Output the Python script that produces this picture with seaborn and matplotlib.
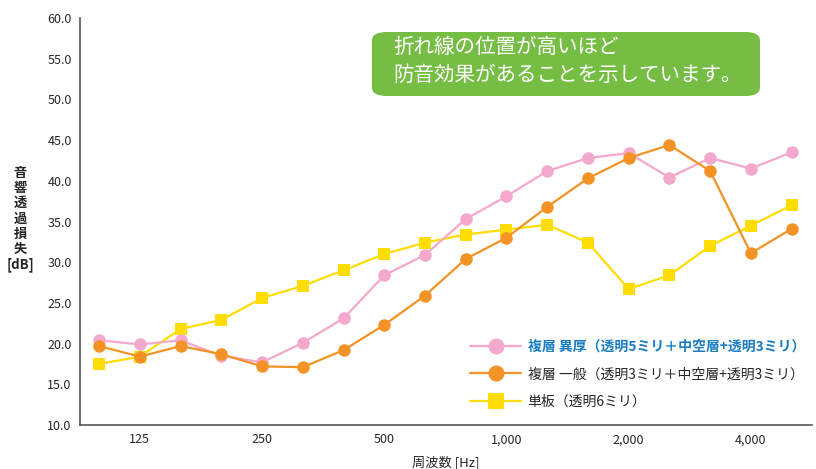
import numpy as np
import pandas as pd
import matplotlib.pyplot as plt
import seaborn as sns
from matplotlib.patches import FancyBboxPatch

# 1/3オクターブバンドの周波数
frecuencias = [100, 125, 160, 200, 250, 315, 400, 500, 630, 800,
               1000, 1250, 1600, 2000, 2500, 3150, 4000, 5000]

# 各サンプルの音響透過損失 [dB]
ikou = [20.4, 19.9, 20.4, 18.5, 17.7, 20.1, 23.1, 28.4, 30.9, 35.3,
        38.1, 41.2, 42.8, 43.4, 40.4, 42.8, 41.5, 43.5]
ippan = [19.7, 18.4, 19.7, 18.7, 17.2, 17.1, 19.2, 22.3, 25.9, 30.4,
         33.0, 36.8, 40.3, 42.8, 44.4, 41.2, 31.1, 34.1]
tanban = [17.5, 18.4, 21.8, 22.9, 25.6, 27.1, 29.0, 31.0, 32.4, 33.4,
          34.0, 34.6, 32.4, 26.7, 28.4, 32.0, 34.5, 37.0]

series = ["複層 異厚（透明5ミリ＋中空層+透明3ミリ）",
          "複層 一般（透明3ミリ＋中空層+透明3ミリ）",
          "単板（透明6ミリ）"]
colores = ["#f4a8cb", "#f39325", "#ffdd00"]
marcadores = ["o", "o", "s"]

tick_labels = ["125", "250", "500", "1,000", "2,000", "4,000"]
tick_freqs = [125, 250, 500, 1000, 2000, 4000]

sns.set_style("white")
plt.rcParams['font.family'] = ['Noto Sans CJK JP', 'DejaVu Sans']

datos = pd.DataFrame({
    "pos": list(range(len(frecuencias))) * 3,
    "valor": ikou + ippan + tanban,
    "serie": [series[0]] * len(ikou) + [series[1]] * len(ippan) + [series[2]] * len(tanban),
})

fig = plt.figure(figsize=(8.16, 4.69), dpi=100)
ax = fig.add_axes([80 / 816, 44 / 469, 732 / 816, 407 / 469])

# dibujamos de abajo hacia arriba: amarillo, naranja, rosa
for nombre, color, m, z in zip(series, colores, marcadores, [3, 4, 2]):
    sub = datos[datos["serie"] == nombre]
    sns.lineplot(data=sub, x="pos", y="valor", color=color, marker=m,
                 markersize=9 if m == "o" else 8.5, markeredgewidth=0,
                 linewidth=1.6, ax=ax, label=nombre, zorder=z)

ax.set_xlim(-0.47, 17.5)
ax.set_ylim(10, 60)
ax.set_yticks(np.arange(10, 60.1, 5))
ax.set_yticklabels([f"{v:.1f}" for v in np.arange(10, 60.1, 5)], fontsize=9)
ax.set_xticks([frecuencias.index(f) for f in tick_freqs])
ax.set_xticklabels(tick_labels, fontsize=9)
ax.tick_params(length=0, pad=6)
ax.set_xlabel("")
ax.set_ylabel("")

sns.despine(ax=ax)
for lado in ["left", "bottom"]:
    ax.spines[lado].set_color("#555555")
    ax.spines[lado].set_linewidth(1.2)

# titulos de los ejes
fig.text(446 / 816, 1 - 462 / 469, "周波数 [Hz]", ha="center", va="center", fontsize=9.5)
fig.text(20 / 816, 1 - 219 / 469, "音\n響\n透\n過\n損\n失\n[dB]", ha="center", va="center",
         fontsize=9.5, fontweight="bold", linespacing=1.12)

# leyenda
handles, labels = ax.get_legend_handles_labels()
leg = ax.legend(handles, labels, loc="upper left", bbox_to_anchor=(470 / 816, 1 - 340 / 469),
                bbox_transform=fig.transFigure, frameon=False, fontsize=10,
                borderpad=0, borderaxespad=0,
                handlelength=3.7, handletextpad=0.45, labelspacing=0.95, markerscale=1.28)
leg.get_texts()[0].set_color("#1a7dc1")
leg.get_texts()[0].set_fontweight("bold")

# cuadro verde
caja = FancyBboxPatch((372 / 816, 1 - 96 / 469), 388 / 816, 64 / 469,
                      boxstyle="round,pad=0,rounding_size=0.018",
                      transform=fig.transFigure, facecolor="#75bd43", edgecolor="none")
fig.patches.append(caja)
fig.text(393 / 816, 1 - 47 / 469, "折れ線の位置が高いほど", color="white", fontsize=14.8, va="center")
fig.text(393 / 816, 1 - 75 / 469, "防音効果があることを示しています。", color="white", fontsize=14.8, va="center")

fig.savefig("out.png", dpi=100)
